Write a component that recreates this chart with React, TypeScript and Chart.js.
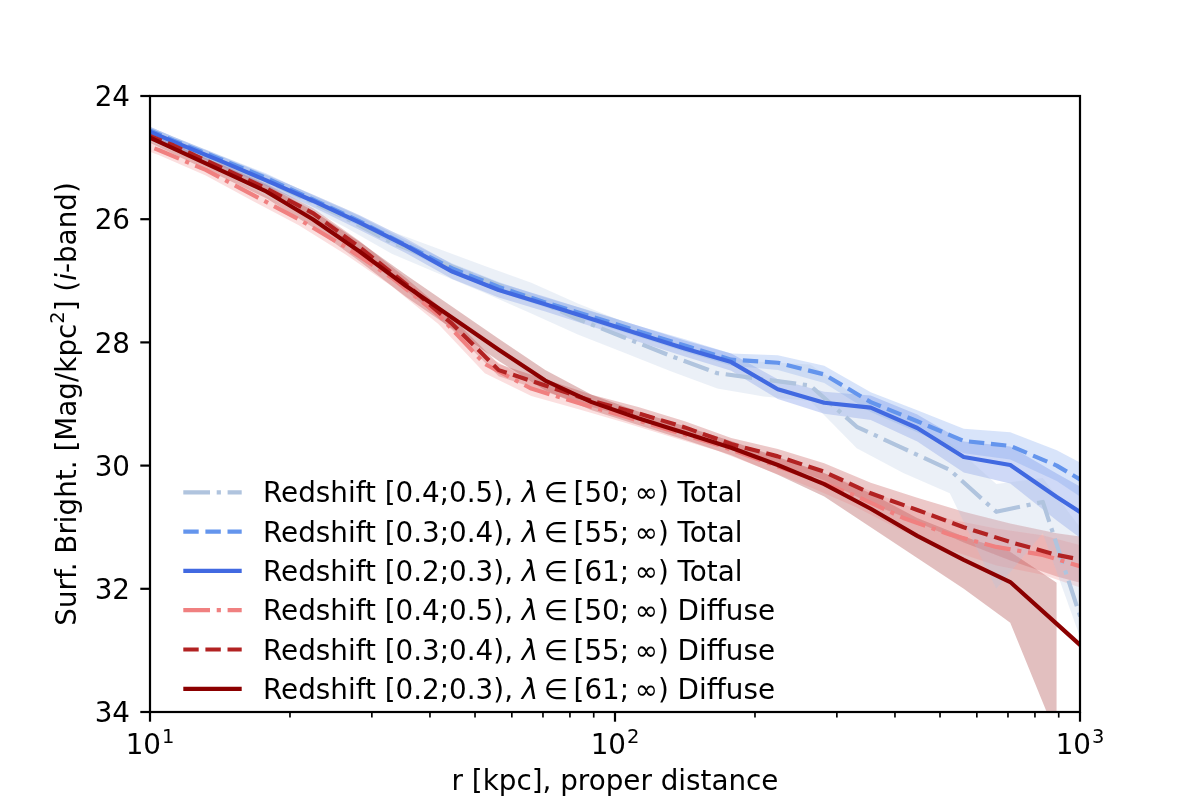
import React, { useEffect, useRef } from "react";
import { Chart, registerables } from "chart.js";

Chart.register(...registerables);

// ---------------- data ----------------
// radial bins (kpc); redshift bins [0.2;0.3) and [0.3;0.4) share one grid, [0.4;0.5) another
const rGridLow = [8.91, 11.22, 14.13, 17.78, 22.39, 28.18, 35.48, 44.67, 56.23, 70.79, 89.13, 112.2, 141.3, 177.8, 223.9, 281.8, 354.8, 446.7, 562.3, 707.9, 891.3, 1122];
const rGridHigh = [8.32, 10.47, 13.18, 16.6, 20.89, 26.3, 33.11, 41.69, 52.48, 66.07, 83.18, 104.7, 131.8, 166.0, 208.9, 263.0, 331.1, 416.9, 524.8, 660.7, 831.8, 1047];

// Total, z in [0.4;0.5)
const totalZ45 = [24.38, 24.65, 24.97, 25.28, 25.62, 25.98, 26.38, 26.68, 26.98, 27.28, 27.62, 27.92, 28.22, 28.5, 28.6, 28.7, 29.37, 29.72, 30.07, 30.75, 30.59, 32.9];
const totalZ45Lo = [24.3, 24.57, 24.87, 25.18, 25.5, 25.83, 26.2, 26.48, 26.76, 27.03, 27.37, 27.67, 27.97, 28.25, 28.32, 28.36, 28.88, 29.32, 29.62, 30.3, 30.2, 31.2];
const totalZ45Hi = [24.46, 24.73, 25.07, 25.38, 25.74, 26.13, 26.56, 26.88, 27.2, 27.53, 27.87, 28.17, 28.47, 28.75, 28.88, 28.95, 29.72, 30.12, 30.45, 32.0, 31.1, 33.2];

// Total, z in [0.3;0.4)
const totalZ34 = [24.4, 24.72, 25.02, 25.33, 25.68, 26.03, 26.42, 26.8, 27.1, 27.35, 27.58, 27.82, 28.05, 28.28, 28.33, 28.52, 28.97, 29.28, 29.6, 29.68, 30.0, 30.45];
const totalZ34Lo = [24.34, 24.66, 24.96, 25.26, 25.61, 25.95, 26.34, 26.72, 27.02, 27.27, 27.49, 27.73, 27.95, 28.18, 28.21, 28.38, 28.81, 29.1, 29.4, 29.46, 29.75, 30.15];
const totalZ34Hi = [24.46, 24.78, 25.08, 25.4, 25.75, 26.11, 26.5, 26.88, 27.18, 27.43, 27.67, 27.91, 28.15, 28.38, 28.45, 28.66, 29.13, 29.46, 29.8, 29.9, 30.25, 30.75];

// Total, z in [0.2;0.3)
const totalZ23 = [24.42, 24.74, 25.05, 25.37, 25.7, 26.05, 26.43, 26.85, 27.15, 27.38, 27.62, 27.86, 28.1, 28.32, 28.76, 28.98, 29.06, 29.39, 29.86, 29.99, 30.51, 31.0];
const totalZ23Lo = [24.34, 24.66, 24.97, 25.28, 25.6, 25.93, 26.31, 26.73, 27.03, 27.26, 27.5, 27.73, 27.97, 28.18, 28.6, 28.8, 28.86, 29.17, 29.61, 29.69, 30.13, 30.55];
const totalZ23Hi = [24.5, 24.82, 25.13, 25.46, 25.8, 26.17, 26.55, 26.97, 27.27, 27.5, 27.74, 27.99, 28.23, 28.46, 28.92, 29.16, 29.26, 29.61, 30.11, 30.29, 30.89, 31.45];

// Diffuse, z in [0.4;0.5)
const diffuseZ45 = [24.6, 24.88, 25.2, 25.6, 26.0, 26.45, 26.95, 27.55, 28.35, 28.75, 28.98, 29.2, 29.43, 29.66, 29.93, 30.2, 30.5, 30.85, 31.12, 31.32, 31.45, 31.68];
const diffuseZ45Lo = [24.52, 24.8, 25.11, 25.5, 25.9, 26.33, 26.81, 27.4, 28.2, 28.63, 28.88, 29.1, 29.33, 29.56, 29.81, 30.05, 30.32, 30.63, 30.87, 31.02, 31.13, 31.33];
const diffuseZ45Hi = [24.68, 24.96, 25.29, 25.7, 26.1, 26.57, 27.09, 27.7, 28.5, 28.87, 29.08, 29.3, 29.53, 29.76, 30.05, 30.35, 30.68, 31.07, 31.37, 31.62, 31.77, 32.03];

// Diffuse, z in [0.3;0.4)
const diffuseZ34 = [24.5, 24.8, 25.15, 25.5, 25.9, 26.45, 27.05, 27.7, 28.45, 28.7, 28.95, 29.15, 29.38, 29.65, 29.85, 30.1, 30.45, 30.72, 31.0, 31.24, 31.45, 31.6];
const diffuseZ34Lo = [24.43, 24.73, 25.08, 25.42, 25.82, 26.35, 26.95, 27.6, 28.35, 28.6, 28.85, 29.05, 29.28, 29.55, 29.73, 29.96, 30.28, 30.52, 30.75, 30.94, 31.1, 31.2];
const diffuseZ34Hi = [24.57, 24.87, 25.22, 25.58, 25.98, 26.55, 27.15, 27.8, 28.55, 28.8, 29.05, 29.25, 29.48, 29.75, 29.97, 30.24, 30.62, 30.92, 31.25, 31.54, 31.8, 32.0];

// Diffuse, z in [0.2;0.3)
const diffuseZ23 = [24.5, 24.85, 25.2, 25.55, 26.0, 26.52, 27.08, 27.6, 28.12, 28.62, 28.97, 29.23, 29.47, 29.71, 29.99, 30.3, 30.7, 31.14, 31.53, 31.89, 32.57, 33.25];
const diffuseZ23Lo = [24.42, 24.76, 25.1, 25.44, 25.86, 26.36, 26.9, 27.42, 27.94, 28.45, 28.85, 29.12, 29.36, 29.6, 29.86, 30.12, 30.45, 30.85, 31.15, 31.4, 31.9, null];
const diffuseZ23Hi = [24.58, 24.94, 25.3, 25.66, 26.13, 26.68, 27.26, 27.78, 28.3, 28.78, 29.1, 29.34, 29.58, 29.83, 30.15, 30.5, 31.0, 31.5, 32.0, 32.55, 34.4, null];

const zBins = ["[0.4;0.5)", "[0.3;0.4)", "[0.2;0.3)"];
const lambdaMins = ["50", "55", "61"];
const kinds = ["Total", "Diffuse"];

const yTicks = [24, 26, 28, 30, 32, 34];
const xMajorTicks = [10, 100, 1000];
const xMajorExp = ["1", "2", "3"];
const xMinorMult = [2, 3, 4, 5, 6, 7, 8, 9];

const xLabel = "r [kpc], proper distance";

// ---------------- styles ----------------
const FONT = "'DejaVu Sans', 'Liberation Sans', sans-serif";
const FS = 27.8;
const LW = 4.17;
const DASHED = [15.4, 6.7];
const DASHDOT = [26.7, 6.7, 4.2, 6.7];
const SOLID: number[] = [];
const MATH_GAP = 0.2 * FS;

type Series = {
  r: number[];
  v: (number | null)[];
  lo: (number | null)[];
  hi: (number | null)[];
  rgb: number[];
  dash: number[];
  z: string;
  lam: string;
  kind: string;
};

const seriesList: Series[] = [
  { r: rGridHigh, v: totalZ45, lo: totalZ45Lo, hi: totalZ45Hi, rgb: [176, 196, 222], dash: DASHDOT, z: zBins[0], lam: lambdaMins[0], kind: kinds[0] },
  { r: rGridLow, v: totalZ34, lo: totalZ34Lo, hi: totalZ34Hi, rgb: [100, 149, 237], dash: DASHED, z: zBins[1], lam: lambdaMins[1], kind: kinds[0] },
  { r: rGridLow, v: totalZ23, lo: totalZ23Lo, hi: totalZ23Hi, rgb: [65, 105, 225], dash: SOLID, z: zBins[2], lam: lambdaMins[2], kind: kinds[0] },
  { r: rGridHigh, v: diffuseZ45, lo: diffuseZ45Lo, hi: diffuseZ45Hi, rgb: [240, 128, 128], dash: DASHDOT, z: zBins[0], lam: lambdaMins[0], kind: kinds[1] },
  { r: rGridLow, v: diffuseZ34, lo: diffuseZ34Lo, hi: diffuseZ34Hi, rgb: [178, 34, 34], dash: DASHED, z: zBins[1], lam: lambdaMins[1], kind: kinds[1] },
  { r: rGridLow, v: diffuseZ23, lo: diffuseZ23Lo, hi: diffuseZ23Hi, rgb: [139, 0, 0], dash: SOLID, z: zBins[2], lam: lambdaMins[2], kind: kinds[1] },
];

const rgbStr = (c: number[], a = 1) => `rgba(${c[0]},${c[1]},${c[2]},${a})`;
const pts = (r: number[], v: (number | null)[]) => r.map((x, i) => ({ x, y: v[i] }));

function buildDatasets() {
  const ds: any[] = [];
  const n = seriesList.length;
  seriesList.forEach((s) => {
    const loIndex = ds.length;
    ds.push({
      label: "_band_lo",
      data: pts(s.r, s.lo),
      borderWidth: 0,
      borderColor: "rgba(0,0,0,0)",
      pointRadius: 0,
      fill: false,
      order: 20,
      clip: 0,
    });
    ds.push({
      label: "_band_hi",
      data: pts(s.r, s.hi),
      borderWidth: 0,
      borderColor: "rgba(0,0,0,0)",
      backgroundColor: rgbStr(s.rgb, 0.25),
      pointRadius: 0,
      fill: { target: loIndex },
      order: 20,
      clip: 0,
    });
  });
  seriesList.forEach((s, i) => {
    ds.push({
      label: `${s.z} ${s.kind}`,
      data: pts(s.r, s.v),
      borderColor: rgbStr(s.rgb),
      borderWidth: LW,
      borderDash: s.dash,
      borderCapStyle: "butt",
      borderJoinStyle: "round",
      pointRadius: 0,
      fill: false,
      tension: 0,
      order: n - i,
      clip: 0,
    });
  });
  return ds;
}

// text segments: [text, style]; style "n" normal, "it" italic, "sup" superscript, "gap" = blank of given px
type Seg = [string, string, number?];

function segFont(st: string) {
  const size = st === "sup" ? FS * 0.7 : FS;
  return `${st === "it" ? "italic " : ""}${size}px ${FONT}`;
}
function segWidth(ctx: CanvasRenderingContext2D, s: Seg) {
  if (s[1] === "gap") return s[2] || 0;
  ctx.font = segFont(s[1]);
  return ctx.measureText(s[0]).width;
}
function drawSegments(ctx: CanvasRenderingContext2D, segs: Seg[], x: number, y: number) {
  let cx = x;
  for (const s of segs) {
    if (s[1] !== "gap") {
      ctx.font = segFont(s[1]);
      ctx.fillText(s[0], cx, y + (s[1] === "sup" ? -12.5 : 0));
    }
    cx += segWidth(ctx, s);
  }
  return cx - x;
}
function measureSegments(ctx: CanvasRenderingContext2D, segs: Seg[]) {
  return segs.reduce((w, s) => w + segWidth(ctx, s), 0);
}

const axesPlugin = {
  id: "mplAxes",
  afterDraw(chart: any) {
    const ctx: CanvasRenderingContext2D = chart.ctx;
    const a = chart.chartArea;
    const xs = chart.scales.x;
    const ys = chart.scales.y;
    ctx.save();
    ctx.setLineDash([]);
    ctx.strokeStyle = "#000";
    ctx.fillStyle = "#000";
    ctx.lineCap = "butt";

    // spines
    ctx.lineWidth = 2.2;
    ctx.lineJoin = "miter";
    ctx.strokeRect(a.left, a.top, a.right - a.left, a.bottom - a.top);

    // y ticks + labels
    ctx.textAlign = "right";
    ctx.textBaseline = "alphabetic";
    ctx.font = `${FS}px ${FONT}`;
    for (const t of yTicks) {
      const py = ys.getPixelForValue(t);
      ctx.beginPath();
      ctx.moveTo(a.left, py);
      ctx.lineTo(a.left - 9.7, py);
      ctx.stroke();
      ctx.fillText(String(t), 130, py + 10.2);
    }

    // x minor ticks
    ctx.lineWidth = 1.67;
    for (const dec of [10, 100]) {
      for (const m of xMinorMult) {
        const px = xs.getPixelForValue(dec * m);
        ctx.beginPath();
        ctx.moveTo(px, a.bottom);
        ctx.lineTo(px, a.bottom + 5.6);
        ctx.stroke();
      }
    }
    // x major ticks + labels
    ctx.lineWidth = 2.2;
    ctx.textAlign = "left";
    xMajorTicks.forEach((t, i) => {
      const px = xs.getPixelForValue(t);
      ctx.beginPath();
      ctx.moveTo(px, a.bottom);
      ctx.lineTo(px, a.bottom + 9.7);
      ctx.stroke();
      const segs: Seg[] = [["10", "n"], [xMajorExp[i], "sup"]];
      const w = measureSegments(ctx, segs) + 1;
      let x0 = px - w / 2;
      ctx.font = `${FS}px ${FONT}`;
      ctx.fillText("10", x0, 754);
      x0 += ctx.measureText("10").width + 1;
      ctx.font = `${FS * 0.7}px ${FONT}`;
      ctx.fillText(xMajorExp[i], x0, 743);
    });

    // x label
    ctx.font = `${FS}px ${FONT}`;
    ctx.textAlign = "center";
    ctx.fillText(xLabel, (a.left + a.right) / 2, 790);

    // y label (rotated)
    const ySegs: Seg[] = [
      ["Surf. Bright. [Mag/kpc", "n"],
      ["2", "sup"],
      ["] (", "n"],
      ["i", "it"],
      ["-band)", "n"],
    ];
    ctx.save();
    ctx.translate(76, (a.top + a.bottom) / 2);
    ctx.rotate(-Math.PI / 2);
    ctx.textAlign = "left";
    const yw = measureSegments(ctx, ySegs);
    drawSegments(ctx, ySegs, -yw / 2, 0);
    ctx.restore();

    // legend
    const rowY0 = 492.3;
    const rowStep = 39.3;
    ctx.textAlign = "left";
    seriesList.forEach((s, i) => {
      const cy = rowY0 + rowStep * i;
      ctx.strokeStyle = rgbStr(s.rgb);
      ctx.lineWidth = LW;
      ctx.lineCap = "butt";
      ctx.setLineDash(s.dash);
      ctx.beginPath();
      ctx.moveTo(183.3, cy);
      ctx.lineTo(241.7, cy);
      ctx.stroke();
      ctx.setLineDash([]);
      ctx.fillStyle = "#000";
      const segs: Seg[] = [
        [`Redshift ${s.z}, `, "n"],
        ["λ", "it"],
        ["", "gap", MATH_GAP],
        ["∈", "n"],
        ["", "gap", MATH_GAP],
        [`[${s.lam};`, "n"],
        ["", "gap", MATH_GAP],
        [`∞) ${s.kind}`, "n"],
      ];
      drawSegments(ctx, segs, 263, cy + 10);
    });

    ctx.restore();
  },
};

export default function App() {
  const ref = useRef<HTMLCanvasElement | null>(null);
  useEffect(() => {
    document.body.style.margin = "0";
    const canvas = ref.current;
    if (!canvas) return;
    const chart = new Chart(canvas, {
      type: "line",
      data: { datasets: buildDatasets() },
      options: {
        animation: false,
        responsive: false,
        devicePixelRatio: 1,
        events: [],
        layout: { padding: { left: 150, right: 120, top: 96, bottom: 88 } },
        scales: {
          x: { type: "logarithmic", min: 10, max: 1000, display: false },
          y: { type: "linear", min: 24, max: 34, reverse: true, display: false },
        },
        plugins: {
          legend: { display: false },
          tooltip: { enabled: false },
        },
        elements: { line: { tension: 0 } },
      },
      plugins: [axesPlugin],
    } as any);
    return () => chart.destroy();
  }, []);
  return (
    <div style={{ position: "absolute", left: 0, top: 0, width: 1200, height: 800, background: "#fff" }}>
      <canvas ref={ref} width={1200} height={800} style={{ width: 1200, height: 800, display: "block" }} />
    </div>
  );
}
